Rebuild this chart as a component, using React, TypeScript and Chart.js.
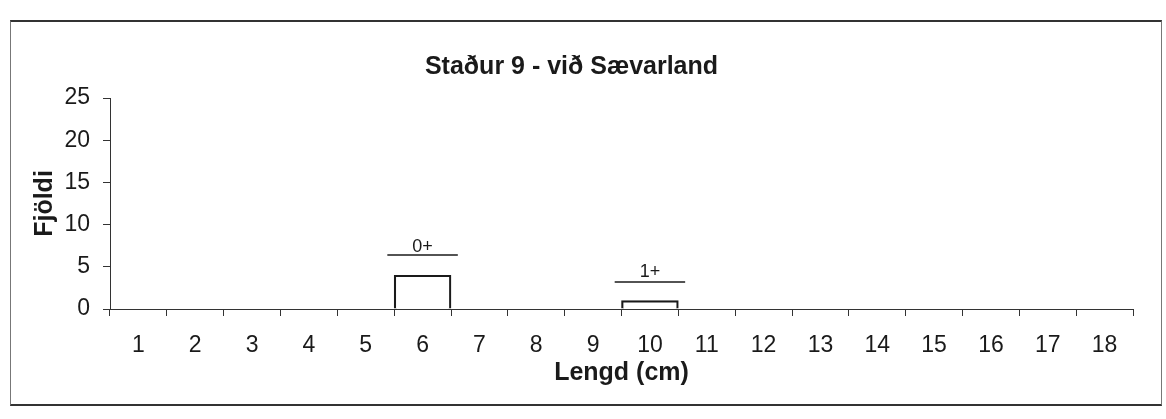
import React, { useEffect, useRef } from "react";
import { Chart, registerables } from "chart.js";

Chart.register(...registerables);

const title = "Staður 9 - við Sævarland";
const xTitle = "Lengd (cm)";
const yTitle = "Fjöldi";
const categories = ["1", "2", "3", "4", "5", "6", "7", "8", "9", "10", "11", "12", "13", "14", "15", "16", "17", "18"];
const counts = [0, 0, 0, 0, 0, 4, 0, 0, 0, 1, 0, 0, 0, 0, 0, 0, 0, 0];
const yMin = 0;
const yMax = 25;
const yStep = 5;
const groupLabels = ["0+", "1+"];
const groupCategories = ["6", "10"];
const groupLineLevels = [6.4, 3.2];
const groupTextLevels = [7.4, 4.4];

const FONT = "'Liberation Sans', Arial, sans-serif";
const INK = "#1a1a1a";

const groupPlugin = {
  id: "groupMarks",
  afterDatasetsDraw(chart: any) {
    const x = chart.scales.x;
    const y = chart.scales.y;
    const ctx = chart.ctx;
    const catW = x.getPixelForValue(1) - x.getPixelForValue(0);
    ctx.save();
    ctx.strokeStyle = INK;
    ctx.fillStyle = INK;
    ctx.lineWidth = 1.5;
    ctx.font = `18px ${FONT}`;
    ctx.textAlign = "center";
    ctx.textBaseline = "middle";
    groupLabels.forEach((lab, i) => {
      const idx = categories.indexOf(groupCategories[i]);
      const cx = x.getPixelForValue(idx);
      const ly = y.getPixelForValue(groupLineLevels[i]);
      ctx.beginPath();
      ctx.moveTo(cx - 0.62 * catW, ly);
      ctx.lineTo(cx + 0.62 * catW, ly);
      ctx.stroke();
      ctx.fillText(lab, cx, y.getPixelForValue(groupTextLevels[i]));
    });
    ctx.restore();
  },
};

export default function App() {
  const ref = useRef<HTMLCanvasElement>(null);
  useEffect(() => {
    if (!ref.current) return;
    const chart = new Chart(ref.current, {
      type: "bar",
      data: {
        labels: categories,
        datasets: [
          {
            data: counts,
            backgroundColor: "#ffffff",
            borderColor: INK,
            borderWidth: 2.2,
            borderSkipped: "start",
            barPercentage: 1,
            categoryPercentage: 1,
          },
        ],
      },
      options: {
        responsive: false,
        animation: false,
        layout: { padding: { left: 10, right: 33, top: 0, bottom: 0 } },
        plugins: {
          legend: { display: false },
          tooltip: { enabled: false },
          title: {
            display: true,
            text: title,
            color: INK,
            font: { family: FONT, size: 25, weight: "bold" },
            padding: { top: 52, bottom: 16 },
          },
        },
        scales: {
          x: {
            type: "category",
            offset: true,
            grid: {
              offset: true,
              drawOnChartArea: false,
              drawTicks: true,
              tickLength: 7,
              color: "#333",
            },
            border: { display: true, color: "#333", width: 1 },
            ticks: {
              color: INK,
              font: { family: FONT, size: 23 },
              padding: 16,
              maxRotation: 0,
              autoSkip: false,
            },
            title: {
              display: true,
              text: xTitle,
              color: INK,
              font: { family: FONT, size: 25, weight: "bold" },
              padding: { top: 0, bottom: 31 },
            },
            afterFit(scale: any) {
              scale.height = 110;
            },
          },
          y: {
            min: yMin,
            max: yMax,
            grid: {
              drawOnChartArea: false,
              drawTicks: true,
              tickLength: 7,
              color: "#333",
            },
            border: { display: true, color: "#333", width: 1 },
            ticks: {
              stepSize: yStep,
              color: INK,
              font: { family: FONT, size: 23 },
              padding: 13,
            },
            title: {
              display: true,
              text: yTitle,
              color: INK,
              font: { family: FONT, size: 25, weight: "bold" },
              padding: { top: 20, bottom: 0 },
            },
            afterFit(scale: any) {
              scale.width = 100;
            },
          },
        },
      },
      plugins: [groupPlugin],
    });
    return () => chart.destroy();
  }, []);

  return (
    <div style={{ position: "absolute", left: 0, top: 0, width: 1166, height: 419, background: "#fff", overflow: "hidden" }}>
      <div
        style={{
          position: "absolute",
          left: 10,
          top: 20,
          width: 1150,
          height: 382,
          borderTop: "2px solid #333",
          borderBottom: "2px solid #333",
          borderLeft: "1px solid #777",
          borderRight: "1px solid #777",
        }}
      />
      <canvas ref={ref} width={1166} height={419} style={{ position: "absolute", left: 0, top: 0 }} />
    </div>
  );
}
